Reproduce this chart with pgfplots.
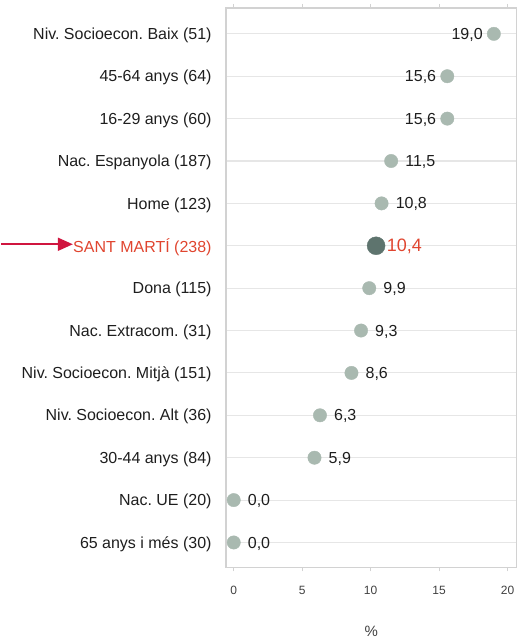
\documentclass[border=0pt]{standalone}
\usepackage{pgfplots}
\pgfplotsset{compat=1.18}
\usepackage{fontspec}
\setmainfont{Liberation Sans}
\usetikzlibrary{arrows.meta}
\definecolor{dotc}{HTML}{A9B9B0}
\definecolor{hidot}{HTML}{5E746E}
\definecolor{redc}{HTML}{E0452F}
\definecolor{arrc}{HTML}{D0153F}
\definecolor{gridc}{HTML}{E6E6E6}
\definecolor{boxc}{HTML}{D2D2D2}
\definecolor{txt}{HTML}{1E1E1E}
\frenchspacing

\begin{document}
\begin{tikzpicture}
\begin{axis}[
  scale only axis, width=290.5pt, height=560pt,
  xmin=-0.55, xmax=20.65, ymin=-0.59, ymax=12.61,
  xtick={0,5,10,15,20},
  ytick={0,...,12},
  yticklabels={65 anys i més (30), Nac. UE (20), 30-44 anys (84),
    Niv. Socioecon. Alt (36), Niv. Socioecon. Mitjà (151), Nac. Extracom. (31),
    Dona (115), \textcolor{redc}{SANT MARTÍ (238)}, Home (123), Nac. Espanyola (187),
    16-29 anys (60), 45-64 anys (64), Niv. Socioecon. Baix (51)},
  axis line style={draw=boxc, line width=1.6pt},
  ymajorgrids, grid style={gridc, line width=1.1pt},
  ytick style={draw=none},
  xtick style={draw=boxc, line width=0.8pt},
  tick align=outside, major tick length=4pt,
  /pgf/number format/assume math mode=true,
  yticklabel style={font=\fontsize{16}{19}\selectfont, text=txt, inner sep=0pt, xshift=-10.5pt, yshift=-1.5pt},
  xticklabel style={font=\fontsize{12}{14}\selectfont, text=txt!85, anchor=base, yshift=-23.5pt},
  xlabel={\%},
  xlabel style={font=\fontsize{15}{18}\selectfont, text=txt!85, at={(axis description cs:0.5,0)}, anchor=center, yshift=-64pt},
  clip=false,
  nodes near coords, point meta=x,
  every node near coord/.append style={text=txt, font=\fontsize{16}{19}\selectfont, inner sep=0pt,
    /pgf/number format/fixed, /pgf/number format/fixed zerofill,
    /pgf/number format/precision=1, /pgf/number format/use comma},
]
% labels right of the dot
\addplot[only marks, mark=*, mark size=6.7pt, color=dotc,
  nodes near coords style={anchor=west, xshift=14pt, yshift=-1pt}]
  coordinates {(0,0) (0,1) (5.9,2) (6.3,3) (8.6,4) (9.3,5) (9.9,6) (10.8,8) (11.5,9)};
% labels left of the dot
\addplot[only marks, mark=*, mark size=6.7pt, color=dotc,
  nodes near coords style={anchor=east, xshift=-11pt, yshift=-1pt}]
  coordinates {(15.6,10) (15.6,11) (19.0,12)};
% district total
\addplot[only marks, mark=*, mark size=9pt, color=hidot,
  nodes near coords style={anchor=west, xshift=10.5pt, yshift=-1pt, text=redc, font=\fontsize{18}{21}\selectfont}]
  coordinates {(10.4,7)};
\coordinate (sm) at (axis cs:-0.55,7);
\coordinate (sw) at (axis cs:-0.55,-0.59);
\end{axis}
\draw[arrc, line width=1.8pt, -{Triangle[length=15pt,width=13pt]}]
  ([xshift=-225.5pt,yshift=1.5pt]sm) -- ([xshift=-153.5pt,yshift=1.5pt]sm);
\path ([xshift=-225.5pt,yshift=-72pt]sw) rectangle ++(518pt,640pt);
\end{tikzpicture}
\end{document}
